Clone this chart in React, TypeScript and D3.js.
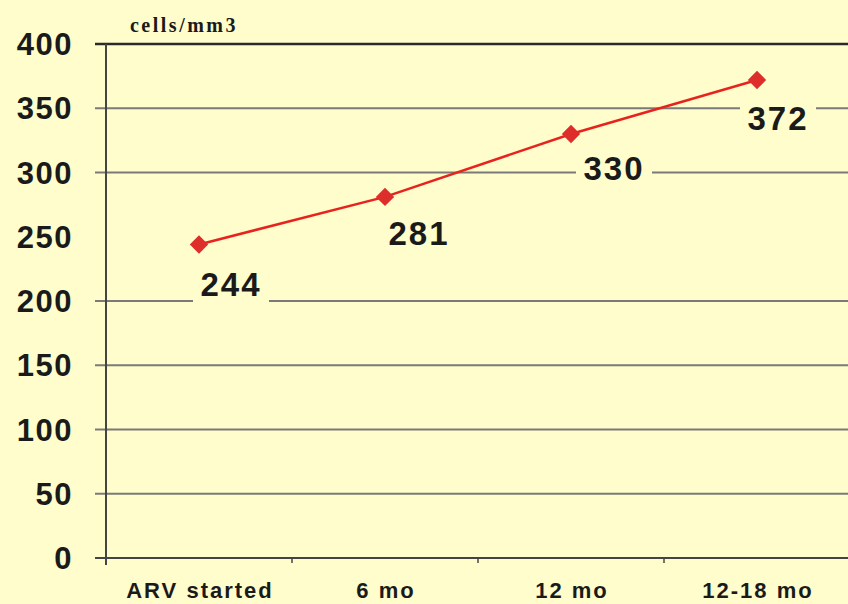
import React from "react";
import * as d3 from "d3";

const categories = ["ARV started", "6 mo", "12 mo", "12-18 mo"];
const values = [244, 281, 330, 372];
const yTicks = [0, 50, 100, 150, 200, 250, 300, 350, 400];
const hiddenGrid = [250];
const unitLabel = "cells/mm3";

// label placement offsets relative to each marker (px)
const labelDx = [32, 34, 43, 21];
const labelDy = [52, 48, 46, 50];

const W = 848;
const H = 604;
const BG = "#FEFDCB";

export default function App() {
  const left = 106;
  const right = 850;
  const top = 44;
  const bottom = 558;
  const x = d3.scaleBand<string>().domain(categories).range([left, right]);
  const y = d3.scaleLinear().domain([0, 400]).range([bottom, top]);
  const cxOf = (i: number) => (x(categories[i]) as number) + x.bandwidth() / 2;
  const line = d3
    .line<number>()
    .x((_, i) => cxOf(i))
    .y((d) => y(d));

  const boundaries = categories.map((c) => x(c) as number).slice(1);

  return (
    <svg
      width={W}
      height={H}
      style={{ position: "absolute", left: 0, top: 0, display: "block" }}
    >
      <rect x={0} y={0} width={W} height={H} fill={BG} />
      {/* gridlines */}
      {yTicks
        .filter((t) => !hiddenGrid.includes(t))
        .map((t) => (
          <line
            key={t}
            x1={95}
            x2={W}
            y1={y(t)}
            y2={y(t)}
            stroke={t === 400 ? "#2a2a2a" : t === 0 ? "#444" : "#7a7a7a"}
            strokeWidth={t === 400 ? 2.5 : 2}
          />
        ))}
      {/* y axis */}
      <line x1={left} x2={left} y1={top} y2={bottom + 7} stroke="#444" strokeWidth={2} />
      {boundaries.map((b, i) => (
        <line key={i} x1={b} x2={b} y1={bottom} y2={bottom + 5} stroke="#444" strokeWidth={1.5} />
      ))}
      {/* y tick labels */}
      {yTicks.map((t) => (
        <text
          key={t}
          x={73}
          y={y(t) + 11}
          textAnchor="end"
          fontFamily="Liberation Sans, Arial, sans-serif"
          fontWeight="bold"
          fontSize={31}
          letterSpacing={1.5}
          fill="#1a1a1a"
        >
          {t}
        </text>
      ))}
      {/* x labels */}
      {categories.map((c, i) => (
        <text
          key={c}
          x={cxOf(i) + 1}
          y={598}
          textAnchor="middle"
          fontFamily="Liberation Sans, Arial, sans-serif"
          fontWeight="bold"
          fontSize={22}
          letterSpacing={2}
          fill="#1a1a1a"
        >
          {c}
        </text>
      ))}
      <text
        x={184}
        y={32}
        textAnchor="middle"
        fontFamily="Liberation Serif, Times New Roman, serif"
        fontWeight="bold"
        fontSize={20}
        letterSpacing={2.5}
        fill="#1a1a1a"
      >
        {unitLabel}
      </text>
      {/* line */}
      <path d={line(values) || ""} fill="none" stroke="#E8231E" strokeWidth={2.5} />
      {values.map((v, i) => {
        const cx = cxOf(i);
        const cy = y(v);
        return (
          <rect
            key={i}
            x={cx - 6.5}
            y={cy - 6.5}
            width={13}
            height={13}
            fill="#DD2E2B"
            transform={`rotate(45 ${cx} ${cy})`}
          />
        );
      })}
      {/* data labels */}
      {values.map((v, i) => {
        const cx = cxOf(i) + labelDx[i];
        const cy = y(v) + labelDy[i];
        return (
          <g key={i}>
            <rect x={cx - 38} y={cy - 30} width={76} height={36} fill={BG} />
            <text
              x={cx}
              y={cy}
              textAnchor="middle"
              fontFamily="Liberation Sans, Arial, sans-serif"
              fontWeight="bold"
              fontSize={33}
              letterSpacing={2}
              fill="#1a1a1a"
            >
              {v}
            </text>
          </g>
        );
      })}
    </svg>
  );
}
